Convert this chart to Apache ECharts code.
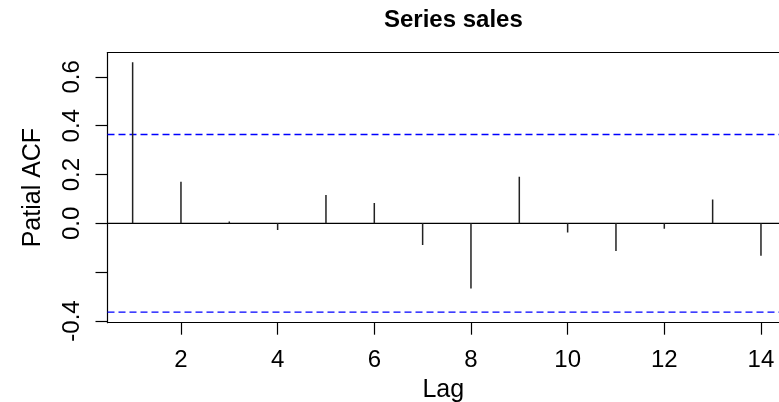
<!DOCTYPE html>
<html>
<head>
<meta charset="utf-8">
<script src="https://cdn.jsdelivr.net/npm/echarts@6/dist/echarts.min.js"></script>
<style>
html,body{margin:0;padding:0;background:#fff;}
#chart{width:779px;height:402px;}
</style>
</head>
<body>
<div id="chart"></div>
<script>
const lags = [1,2,3,4,5,6,7,8,9,10,11,12,13,14];
const pacfValues = [0.660,0.170,0.008,-0.027,0.116,0.083,-0.089,-0.267,0.191,-0.037,-0.113,-0.022,0.098,-0.133];
const confLimit = 0.364;
const xTickValues = [2,4,6,8,10,12,14];
const yTickValues = [-0.4,-0.2,0,0.2,0.4,0.6];
const yLabelValues = [-0.4,0,0.2,0.4,0.6];
const titleText = 'Series sales';
const xName = 'Lag';
const yName = 'Patial ACF';

const FONT = "'Liberation Sans', Arial, Helvetica, sans-serif";
const chart = echarts.init(document.getElementById('chart'), null, {renderer:'canvas'});
const data = lags.map((l,i)=>[l,pacfValues[i]]);
const refLines = [[lags[0],0,'zero'],[lags[0],confLimit,'ci'],[lags[0],-confLimit,'ci']];
const AX = {color:'#000',width:1.2};

chart.setOption({
  animation:false,
  backgroundColor:'#fff',
  graphic:[{
    type:'text', left:384, top:8,
    style:{text:titleText, font:"bold 24px 'Liberation Sans', Arial, sans-serif", fill:'#000'}
  }],
  grid:{left:107.5, top:52.5, right:0, bottom:79.3, show:false, containLabel:false, outerBoundsMode:'none'},
  xAxis:[{
    type:'value', min:0.48, max:14.373,
    name:xName, nameLocation:'middle', nameGap:53,
    nameTextStyle:{fontFamily:FONT,fontSize:25,color:'#000'},
    axisLine:{show:true,onZero:false,lineStyle:AX},
    axisTick:{show:true,length:12,customValues:xTickValues,lineStyle:AX},
    axisLabel:{customValues:xTickValues,margin:26,fontFamily:FONT,fontSize:24,color:'#000'},
    splitLine:{show:false}
  },{
    type:'value', min:0.48, max:14.373, position:'top',
    axisLine:{show:true,onZero:false,lineStyle:AX},
    axisTick:{show:false}, axisLabel:{show:false}, splitLine:{show:false}
  }],
  yAxis:{
    type:'value', min:-0.407, max:0.70,
    name:yName, nameLocation:'middle', nameGap:62, nameRotate:90,
    nameTextStyle:{fontFamily:FONT,fontSize:25,color:'#000'},
    axisLine:{show:true,onZero:false,lineStyle:AX},
    axisTick:{show:true,length:12,customValues:yTickValues,lineStyle:AX},
    axisLabel:{customValues:yLabelValues,rotate:90,margin:23,fontFamily:FONT,fontSize:24,color:'#000',
      formatter:v=>Number(v).toFixed(1)},
    splitLine:{show:false}
  },
  series:[{
    type:'custom',
    data:refLines,
    clip:true,
    renderItem:(params,api)=>{
      const y = api.coord([api.value(0),api.value(1)])[1];
      const cs = params.coordSys;
      const isZero = api.value(2) === 'zero' || refLines[params.dataIndex][2] === 'zero';
      return {type:'line',shape:{x1:cs.x,y1:y,x2:cs.x+cs.width,y2:y},
        style: isZero ? {stroke:'#000',lineWidth:1.2} : {stroke:'#0000ff',lineWidth:1.3,lineDash:[7,4]}};
    }
  },{
    type:'custom',
    data:data,
    clip:true,
    renderItem:(params,api)=>{
      const p0 = api.coord([api.value(0),0]);
      const p1 = api.coord([api.value(0),api.value(1)]);
      return {type:'line',shape:{x1:p0[0],y1:p0[1],x2:p1[0],y2:p1[1]},style:{stroke:'#222',lineWidth:1.5}};
    }
  }]
});
</script>
</body>
</html>
